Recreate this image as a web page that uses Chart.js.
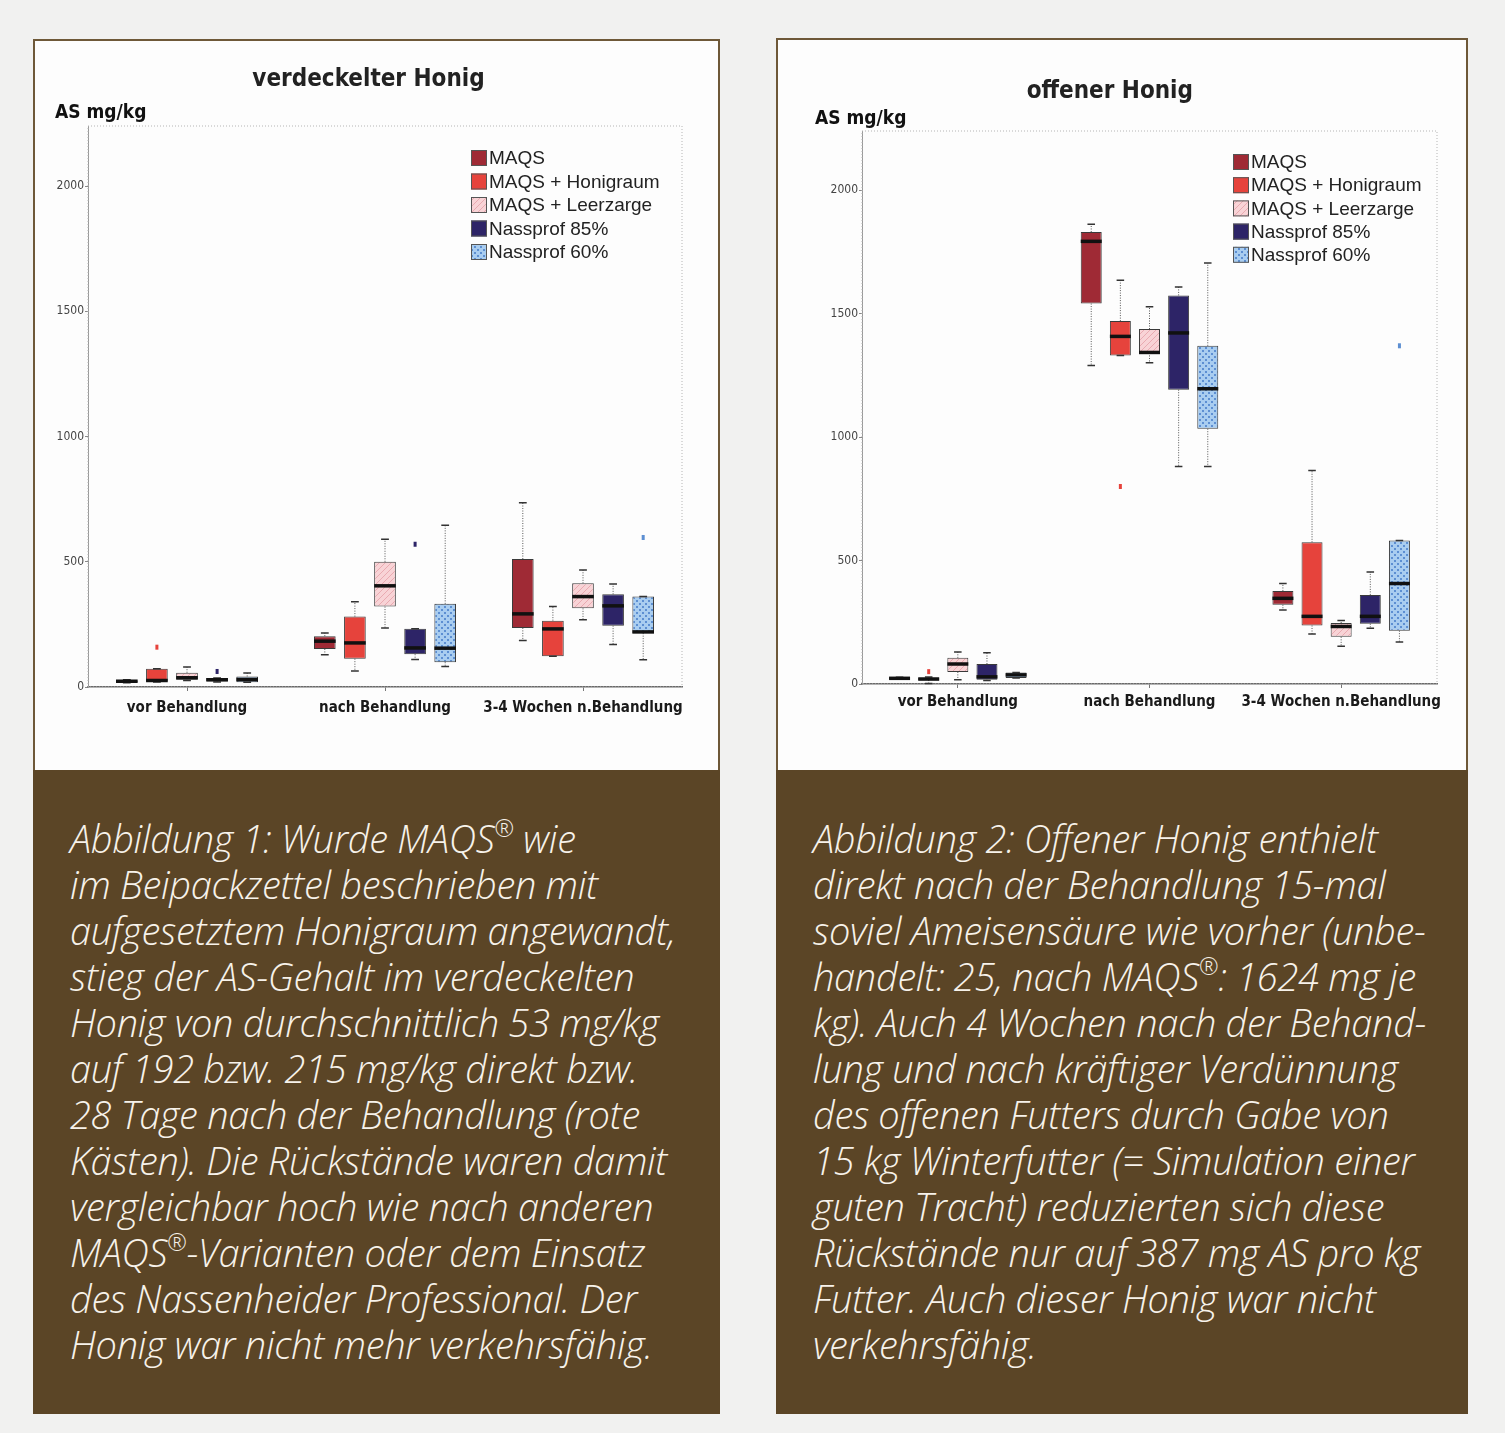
<!DOCTYPE html>
<html lang="de">
<head>
<meta charset="utf-8">
<title>Ameisensäure im Honig</title>
<script src="https://cdn.jsdelivr.net/npm/chart.js@4.4.1/dist/chart.umd.min.js"></script>
<style>
  html, body { margin: 0; padding: 0; }
  body { width: 1505px; height: 1433px; background: #f1f1f0; position: relative; overflow: hidden; }
  .rahmen { position: absolute; box-sizing: border-box; border: 2px solid #6e5838; background: #fdfdfd; }
  .unterschrift {
    position: absolute; box-sizing: border-box; background: #5b4526;
    color: #f7f2ea; font-family: "Open Sans", "Noto Sans", sans-serif; font-style: italic; font-weight: 300;
    font-size: 38px; line-height: 46px; white-space: nowrap; padding: 45px 0 0 37px; letter-spacing: -0.3px;
  }
  .unterschrift sup { font-size: 0.62em; line-height: 0; vertical-align: 0.7em; }
  canvas { position: absolute; }
</style>
</head>
<body>

<div class="rahmen" style="left:33px;top:39px;width:687px;height:1375px"></div>
<canvas id="verdeckelt" width="686" height="731" style="left:33px;top:39px"></canvas>
<div class="unterschrift" style="left:33px;top:770px;width:687px;height:644px">
Abbildung 1: Wurde MAQS<sup>®</sup> wie<br>
im Beipackzettel beschrieben mit<br>
aufgesetztem Honigraum angewandt,<br>
stieg der AS-Gehalt im verdeckelten<br>
Honig von durchschnittlich 53 mg/kg<br>
auf 192 bzw. 215 mg/kg direkt bzw.<br>
28 Tage nach der Behandlung (rote<br>
Kästen). Die Rückstände waren damit<br>
vergleichbar hoch wie nach anderen<br>
MAQS<sup>®</sup>-Varianten oder dem Einsatz<br>
des Nassenheider Professional. Der<br>
Honig war nicht mehr verkehrsfähig.
</div>

<div class="rahmen" style="left:776px;top:38px;width:692px;height:1376px"></div>
<canvas id="offen" width="691" height="732" style="left:776px;top:38px"></canvas>
<div class="unterschrift" style="left:776px;top:770px;width:692px;height:644px">
Abbildung 2: Offener Honig enthielt<br>
direkt nach der Behandlung 15-mal<br>
soviel Ameisensäure wie vorher (unbe-<br>
handelt: 25, nach MAQS<sup>®</sup>: 1624 mg je<br>
kg). Auch 4 Wochen nach der Behand-<br>
lung und nach kräftiger Verdünnung<br>
des offenen Futters durch Gabe von<br>
15 kg Winterfutter (= Simulation einer<br>
guten Tracht) reduzierten sich diese<br>
Rückstände nur auf 387 mg AS pro kg<br>
Futter. Auch dieser Honig war nicht<br>
verkehrsfähig.
</div>

<script>
const kategorien = ['vor Behandlung', 'nach Behandlung', '3-4 Wochen n.Behandlung'];
const serien = ['MAQS', 'MAQS + Honigraum', 'MAQS + Leerzarge', 'Nassprof 85%', 'Nassprof 60%'];
const yTicks = [0, 500, 1000, 1500, 2000];
const yMax = 2240;

// verdeckelter Honig, je Kategorie [min, q1, median, q3, max]
const verdMaqs = [[17, 20, 23, 26, 29], [129, 152, 183, 203, 216], [186, 236, 292, 511, 736]];
const verdHonigraum = [[20, 22, 26, 73, 73], [64, 113, 176, 281, 340], [123, 123, 232, 265, 321]];
const verdLeerzarge = [[26, 29, 37, 57, 80], [236, 321, 404, 500, 590], [269, 314, 361, 414, 467]];
const verdNass85 = [[20, 22, 29, 36, 36], [110, 131, 156, 233, 233], [170, 245, 324, 370, 411]];
const verdNass60 = [[19, 19, 30, 42, 56], [82, 99, 155, 332, 646], [109, 215, 220, 361, 361]];
// [serie, kategorie, wert]
const verdAusreisser = [[1, 0, 159], [3, 0, 62], [3, 1, 570], [4, 2, 597]];

// offener Honig
const offMaqs = [[19, 19, 23, 27, 27], [1290, 1541, 1793, 1831, 1862], [300, 321, 347, 377, 407]];
const offHonigraum = [[2, 16, 20, 26, 28], [1331, 1331, 1408, 1470, 1635], [203, 237, 274, 574, 865]];
const offLeerzarge = [[17, 49, 81, 106, 130], [1301, 1341, 1343, 1438, 1528], [153, 191, 233, 247, 257]];
const offNass85 = [[14, 17, 29, 81, 127], [881, 1192, 1422, 1574, 1608], [226, 244, 274, 361, 454]];
const offNass60 = [[24, 24, 37, 47, 47], [881, 1034, 1196, 1370, 1705], [170, 216, 407, 581, 581]];
const offAusreisser = [[1, 0, 50], [1, 1, 800], [4, 2, 1370]];

const schrift = '"DejaVu Sans Condensed", "DejaVu Sans", sans-serif';

const muster = (grund, strich, art) => {
    const c = document.createElement('canvas');
    c.width = 6; c.height = 6;
    const g = c.getContext('2d');
    g.fillStyle = grund;
    g.fillRect(0, 0, 6, 6);
    g.fillStyle = strich;
    if (art === 'schraeg') {
        for (let i = 0; i < 6; i++) g.fillRect(i, 5 - i, 1, 1);
    } else {
        g.fillRect(0, 0, 2, 2); g.fillRect(3, 3, 2, 2);
    }
    return g.createPattern(c, 'repeat');
};

const farben = ['#9f2a35', '#e6433c', muster('#f8d3d6', '#e9aab1', 'schraeg'), '#2d2467', muster('#a9cdf0', '#5d8fd2', 'karo')];
const punktFarben = ['#9f2a35', '#e6433c', '#e9aab1', '#2d2467', '#5d8fd2'];

const kastenPlugin = {
    id: 'kasten',
    beforeDatasetsDraw(chart) {
        const { ctx, chartArea: a } = chart;
        ctx.save();
        ctx.strokeStyle = '#b5b5b5';
        ctx.lineWidth = 1;
        ctx.setLineDash([1, 2]);
        ctx.strokeRect(a.left, a.top, a.right - a.left, a.bottom - a.top);
        ctx.restore();
    },
    afterDatasetsDraw(chart, args, opts) {
        const { ctx, scales: { y } } = chart;
        ctx.save();
        chart.data.datasets.forEach((ds, d) => {
            chart.getDatasetMeta(d).data.forEach((bar, i) => {
                const [min, q1, med, q3, max] = ds.stats[i];
                const half = bar.width / 2;
                const cap = bar.width * 0.18;
                ctx.strokeStyle = '#555';
                ctx.lineWidth = 1;
                ctx.setLineDash([1, 1.5]);
                ctx.beginPath();
                ctx.moveTo(bar.x, y.getPixelForValue(q3)); ctx.lineTo(bar.x, y.getPixelForValue(max));
                ctx.moveTo(bar.x, y.getPixelForValue(q1)); ctx.lineTo(bar.x, y.getPixelForValue(min));
                ctx.stroke();
                ctx.setLineDash([]);
                ctx.strokeStyle = '#333';
                ctx.lineWidth = 1.5;
                ctx.beginPath();
                [min, max].forEach(v => {
                    const py = y.getPixelForValue(v);
                    ctx.moveTo(bar.x - cap, py); ctx.lineTo(bar.x + cap, py);
                });
                ctx.stroke();
                ctx.strokeStyle = '#111';
                ctx.lineWidth = 3.5;
                ctx.beginPath();
                const pm = y.getPixelForValue(med);
                ctx.moveTo(bar.x - half, pm); ctx.lineTo(bar.x + half, pm);
                ctx.stroke();
            });
        });
        (opts.ausreisser || []).forEach(([d, i, v]) => {
            const bar = chart.getDatasetMeta(d).data[i];
            ctx.fillStyle = punktFarben[d];
            ctx.fillRect(bar.x - 1.5, y.getPixelForValue(v) - 2.5, 3, 5);
        });
        ctx.restore();
    },
    afterDraw(chart, args, opts) {
        const { ctx } = chart;
        const l = opts.legende;
        ctx.save();
        ctx.font = '19px "Liberation Sans", Arial, sans-serif';
        ctx.textBaseline = 'middle';
        chart.data.datasets.forEach((ds, d) => {
            const cy = l.y + d * l.schritt;
            ctx.fillStyle = ds.backgroundColor;
            ctx.fillRect(l.x, cy - 8, 16, 16);
            ctx.strokeStyle = '#555';
            ctx.lineWidth = 1;
            ctx.strokeRect(l.x + 0.5, cy - 7.5, 15, 15);
            ctx.fillStyle = '#222';
            ctx.fillText(ds.label, l.x + 18, cy + 1);
        });
        ctx.restore();
    }
};

const erzeugeDiagramm = (id, titel, statsListe, ausreisser, m) => {
    const datasets = statsListe.map((stats, d) => ({
        label: serien[d],
        stats,
        data: stats.map(s => [s[1], s[3]]),
        backgroundColor: farben[d],
        borderColor: '#3a3a3a',
        borderWidth: 1,
        borderSkipped: false,
        categoryPercentage: 0.76,
        barPercentage: 0.72
    }));

    return new Chart(document.getElementById(id), {
        type: 'bar',
        data: { labels: kategorien, datasets },
        plugins: [kastenPlugin],
        options: {
            responsive: false,
            animation: false,
            layout: { padding: { left: m.links, right: m.rechts, top: 0, bottom: 0 } },
            plugins: {
                legend: { display: false },
                tooltip: { enabled: false },
                title: {
                    display: true,
                    text: titel,
                    color: '#222',
                    font: { family: schrift, size: 24, weight: 'bold', lineHeight: 1.3 },
                    padding: { top: m.titelOben, bottom: 0 }
                },
                subtitle: {
                    display: true,
                    text: 'AS mg/kg',
                    align: 'start',
                    color: '#111',
                    font: { family: schrift, size: 19, weight: 'bold', lineHeight: 1.2 },
                    padding: { top: m.untertitelOben, bottom: m.untertitelUnten }
                },
                kasten: { ausreisser, legende: m.legende }
            },
            scales: {
                x: {
                    afterFit: s => { s.height = m.xHoehe; },
                    grid: { display: true, drawOnChartArea: false, drawTicks: true, tickLength: 4, offset: false, color: '#777' },
                    border: { display: true, color: '#6a6a6a', width: 1.5 },
                    ticks: {
                        padding: m.xAbstand,
                        maxRotation: 0,
                        minRotation: 0,
                        autoSkip: false,
                        color: '#1a1a1a',
                        font: { family: schrift, size: 15, weight: 'bold' }
                    }
                },
                y: {
                    min: 0,
                    max: yMax,
                    afterFit: s => { s.width = m.yBreite; },
                    afterBuildTicks: s => { s.ticks = yTicks.map(v => ({ value: v })); },
                    grid: { display: true, drawOnChartArea: false, drawTicks: true, tickLength: 3, color: '#888' },
                    border: { display: true, color: '#999', dash: [1, 2] },
                    ticks: {
                        padding: 1,
                        color: '#444',
                        callback: v => String(v),
                        font: { family: schrift, size: 12 }
                    }
                }
            }
        }
    });
};

erzeugeDiagramm('verdeckelt', 'verdeckelter Honig',
    [verdMaqs, verdHonigraum, verdLeerzarge, verdNass85, verdNass60], verdAusreisser,
    { links: 22, rechts: 37, titelOben: 25, untertitelOben: 6, untertitelUnten: 2, xHoehe: 83, yBreite: 33, xAbstand: 8,
      legende: { x: 438, y: 119, schritt: 23.5 } });

// Titel steht im Original etwas links der Mitte: nachgestellte Halbgeviert-Leerzeichen
erzeugeDiagramm('offen', 'offener Honig\u2002\u2002\u2002',
    [offMaqs, offHonigraum, offLeerzarge, offNass85, offNass60], offAusreisser,
    { links: 39, rechts: 30, titelOben: 38, untertitelOben: 0, untertitelUnten: 1, xHoehe: 86, yBreite: 47, xAbstand: 5,
      legende: { x: 457, y: 124, schritt: 23.2 } });
</script>
</body>
</html>
